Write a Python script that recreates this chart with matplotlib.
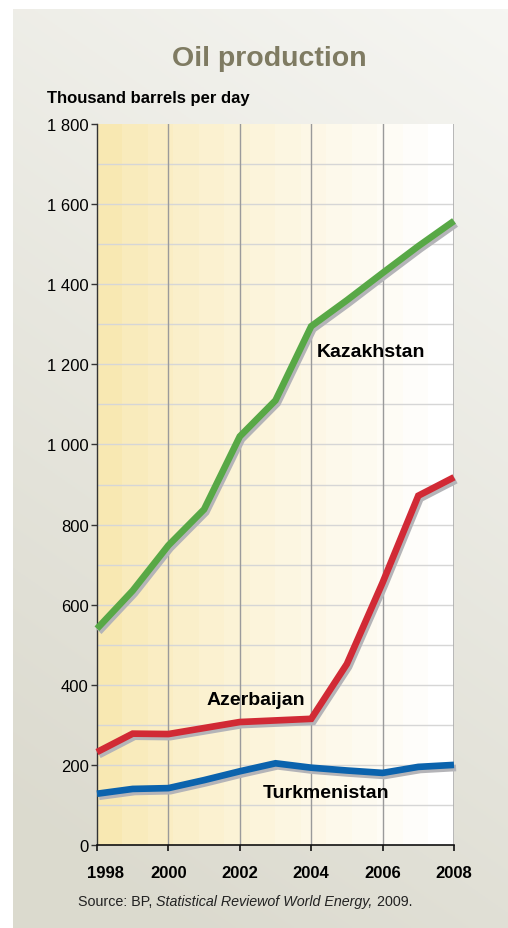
import matplotlib
matplotlib.use('Agg')
import matplotlib.pyplot as plt
import matplotlib.patheffects as pe
import matplotlib.transforms as mtransforms
import numpy as np

plt.rcParams['font.family'] = ['Liberation Sans', 'DejaVu Sans']

# data, thousand barrels per day
years = [1998, 1999, 2000, 2001, 2002, 2003, 2004, 2005, 2006, 2007, 2008]
kazakhstan = [540, 635, 748, 838, 1020, 1110, 1295, 1360, 1428, 1495, 1558]
azerbaijan = [232, 278, 277, 292, 307, 311, 315, 452, 655, 872, 918]
turkmenistan = [128, 140, 142, 162, 184, 204, 193, 186, 180, 195, 200]

y_ticks = [0, 200, 400, 600, 800, 1000, 1200, 1400, 1600, 1800]
y_labels = ['0', '200', '400', '600', '800', '1 000', '1 200', '1 400', '1 600', '1 800']
x_ticks = [1998, 2000, 2002, 2004, 2006, 2008]

W, H = 508, 929
fig = plt.figure(figsize=(W / 100, H / 100), dpi=100, facecolor='white')

# panel background (diagonal grey gradient, darker bottom-left)
bg = fig.add_axes([13 / W, 0, (W - 13) / W, (H - 10) / H], zorder=-5)
gx, gy = np.meshgrid(np.linspace(0, 1, 200), np.linspace(0, 1, 400))
t = np.clip(0.3 * (1 - gx) + 0.8 * (1 - gy), 0, 1)[..., None]
light = np.array([0.965, 0.965, 0.950])
dark = np.array([0.860, 0.855, 0.810])
bg.imshow(light + (dark - light) * t, aspect='auto', extent=[0, 1, 0, 1], origin='lower')
bg.axis('off')

ax = fig.add_axes([97 / W, 83 / H, 357 / W, 721 / H])
ax.set_xlim(1998, 2008)
ax.set_ylim(0, 1800)

# stepped yellow to white fill inside the plot
nb = 14
s = (np.arange(nb) / (nb - 1)) ** 0.8
yellow = np.array([0.976, 0.913, 0.700])
white = np.array([1.0, 1.0, 1.0])
band = yellow + (white - yellow) * s[:, None]
ax.imshow(band[None, :, :], aspect='auto', extent=[1998, 2008, 0, 1800], zorder=0)

for v in range(100, 1800, 100):
    ax.axhline(v, color='#d6d6d6', lw=1.0, zorder=1)
for yr in x_ticks[1:-1]:
    ax.axvline(yr, color='#9a9a9a', lw=1.0, zorder=1)
ax.axvline(2008, color='#b0b0b0', lw=2.0, zorder=1)

shadow = [pe.SimpleLineShadow(offset=(1.5, -2.2), shadow_color='#b4b4b8', alpha=1), pe.Normal()]
for vals, col in [(turkmenistan, '#0b63ad'), (azerbaijan, '#d12a35'), (kazakhstan, '#58a846')]:
    ax.plot(years, vals, color=col, lw=4.8, solid_joinstyle='miter', solid_capstyle='butt',
            path_effects=shadow, zorder=3, clip_on=False)

ax.text(2004.16, 1221, 'Kazakhstan', fontsize=14, fontweight='bold', ha='left', va='baseline', zorder=4)
ax.text(2001.08, 352, 'Azerbaijan', fontsize=14, fontweight='bold', ha='left', va='baseline', zorder=4)
ax.text(2002.65, 120, 'Turkmenistan', fontsize=14, fontweight='bold', ha='left', va='baseline', zorder=4)

for sp in ['top', 'right']:
    ax.spines[sp].set_visible(False)
ax.spines['left'].set_color('#333333')
ax.spines['bottom'].set_color('#111111')
ax.spines['left'].set_linewidth(1.0)
ax.spines['bottom'].set_linewidth(1.2)

ax.set_yticks(y_ticks)
ax.set_yticklabels(y_labels, fontsize=12)
ax.set_xticks(x_ticks)
ax.set_xticklabels([str(x) for x in x_ticks], fontsize=12, fontweight='bold')
ax.tick_params(axis='y', length=4.5, width=1, pad=1.5, color='#333333')
ax.tick_params(axis='x', length=4.5, width=1.2, pad=10, color='#111111')

# first year label sits a bit to the right of its tick
lab0 = ax.get_xticklabels()[0]
lab0.set_transform(lab0.get_transform() + mtransforms.ScaledTranslation(9 / 100, 0, fig.dpi_scale_trans))

fig.text(269.5 / W, 1 - 66 / H, 'Oil production', fontsize=20.5, fontweight='bold',
         color='#7f7b62', ha='center', va='baseline')
fig.text(47 / W, 1 - 103 / H, 'Thousand barrels per day', fontsize=12, fontweight='bold',
         ha='left', va='baseline')

# source line with italic title
fig.canvas.draw()
r = fig.canvas.get_renderer()
x0 = 78
for txt, sty in [('Source: BP, ', 'normal'), ('Statistical Reviewof World Energy,', 'italic'), (' 2009.', 'normal')]:
    tt = fig.text(x0 / W, 1 - 906 / H, txt, fontsize=10.25, style=sty, color='#222222',
                  ha='left', va='baseline')
    x0 += tt.get_window_extent(r).width

fig.savefig('out.png', dpi=100, facecolor='white')
